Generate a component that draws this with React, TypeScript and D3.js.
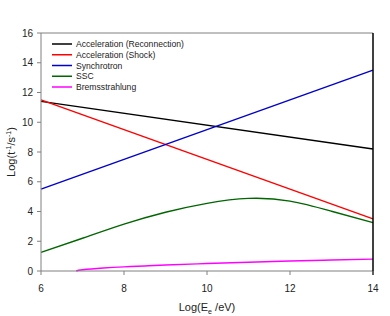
import React from "react";
import * as d3 from "d3";

const xTicks = [6, 8, 10, 12, 14];
const yTicks = [0, 2, 4, 6, 8, 10, 12, 14, 16];

const recX = [6, 14];
const recY = [11.4, 8.2];
const shockX = [6, 14];
const shockY = [11.5, 3.5];
const syncX = [6, 14];
const syncY = [5.5, 13.5];
const sscX = [6, 7, 8, 9, 10, 11, 12, 13, 14];
const sscY = [1.25, 2.2, 3.15, 3.95, 4.55, 4.88, 4.7, 4.02, 3.25];
const bremX = [6.85, 7, 7.5, 8, 8.5, 9, 10, 11, 12, 13, 14];
const bremY = [0, 0.08, 0.2, 0.28, 0.34, 0.4, 0.5, 0.59, 0.67, 0.74, 0.8];

const seriesNames = [
  "Acceleration (Reconnection)",
  "Acceleration (Shock)",
  "Synchrotron",
  "SSC",
  "Bremsstrahlung",
];
const seriesColors = ["#000000", "#ff0000", "#0000cc", "#006600", "#ff00ff"];

export default function App() {
  const W = 390, H = 316;
  const L = 41, R = 373, T = 33, B = 271;
  const x = d3.scaleLinear().domain([6, 14]).range([L, R]);
  const y = d3.scaleLinear().domain([0, 16]).range([B, T]);
  const line = d3
    .line<[number, number]>()
    .x((d) => x(d[0]))
    .y((d) => y(d[1]))
    .curve(d3.curveNatural);
  const data = [
    [recX, recY],
    [shockX, shockY],
    [syncX, syncY],
    [sscX, sscY],
    [bremX, bremY],
  ].map(([xs, ys]) => xs.map((v, i) => [v, ys[i]] as [number, number]));
  const font = "'Liberation Sans', Arial, sans-serif";
  return (
    <svg width={W} height={H} style={{ position: "absolute", left: 0, top: 0 }} fontFamily={font}>
      <rect width={W} height={H} fill="#fff" />
      {data.map((d, i) => (
        <path key={i} d={line(d) || ""} fill="none" stroke={seriesColors[i]} strokeWidth={1.4} />
      ))}
      {/* frame */}
      <line x1={L} x2={R} y1={T} y2={T} stroke="#808080" strokeWidth={1} />
      <line x1={L} x2={L} y1={T} y2={B} stroke="#808080" strokeWidth={1} />
      <line x1={L} x2={R} y1={B} y2={B} stroke="#808080" strokeWidth={1} />
      <line x1={R} x2={R} y1={T} y2={B + 4} stroke="#000" strokeWidth={1.5} />
      {yTicks.map((t) => (
        <g key={t}>
          <line x1={L - 4} x2={L} y1={y(t)} y2={y(t)} stroke="#808080" />
          <text x={L - 8} y={y(t)} dy="0.35em" textAnchor="end" fontSize={10} fill="#222">
            {t}
          </text>
        </g>
      ))}
      {xTicks.map((t) => (
        <g key={t}>
          <line x1={x(t)} x2={x(t)} y1={B} y2={B + 4} stroke="#808080" />
          <text x={x(t)} y={B + 21} textAnchor="middle" fontSize={10} fill="#222">
            {t}
          </text>
        </g>
      ))}
      <text x={x(10)} y={311} textAnchor="middle" fontSize={11} fill="#222">
        Log(E
        <tspan fontSize={7} dy={3}>e</tspan>
        <tspan dy={-3}> /eV)</tspan>
      </text>
      <text
        transform={`translate(15,${(T + B) / 2}) rotate(-90)`}
        textAnchor="middle"
        fontSize={11}
        fill="#222"
      >
        Log(t
        <tspan fontSize={7} dy={-4}>-1</tspan>
        <tspan dy={4}>/s</tspan>
        <tspan fontSize={7} dy={-4}>-1</tspan>
        <tspan dy={4}>)</tspan>
      </text>
      {seriesNames.map((n, i) => {
        const yy = 44 + i * 10.75;
        return (
          <g key={n}>
            <line x1={52} x2={72} y1={yy} y2={yy} stroke={seriesColors[i]} strokeWidth={1.5} />
            <text x={76} y={yy} dy="0.35em" fontSize={8.6} fill="#222">
              {n}
            </text>
          </g>
        );
      })}
    </svg>
  );
}
